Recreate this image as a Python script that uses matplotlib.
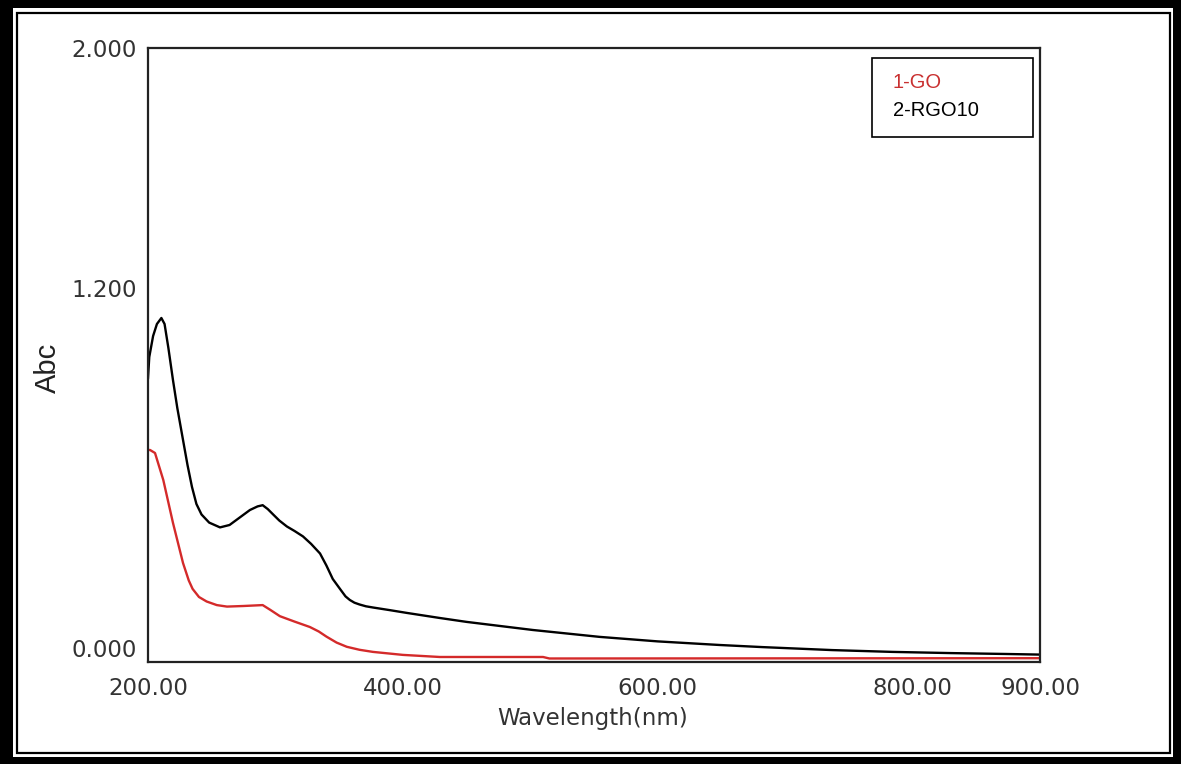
import numpy as np
import matplotlib.pyplot as plt
from matplotlib.patches import Rectangle

# data (wavelength in nm, absorbance)
rgo_x = [200, 201, 204, 207, 210.5, 213, 216, 219.6, 223, 227.5, 231, 234.5,
         238, 242, 248, 256.5, 264, 272, 280, 286, 290, 294, 298, 303, 309,
         315, 321.6, 328, 335, 340, 345, 351, 355, 358.4, 362, 366, 371,
         376.5, 390, 403, 429, 450, 502, 554.5, 600, 648.6, 682, 737, 784,
         830, 873.7, 900]
rgo_y = [0.90, 0.97, 1.04, 1.08, 1.10, 1.08, 1.00, 0.893, 0.80, 0.693, 0.61,
         0.537, 0.48, 0.445, 0.418, 0.402, 0.41, 0.435, 0.46, 0.472, 0.476,
         0.463, 0.446, 0.425, 0.405, 0.39, 0.372, 0.347, 0.315, 0.275, 0.23,
         0.195, 0.172, 0.16, 0.151, 0.145, 0.139, 0.135, 0.126, 0.117, 0.10,
         0.087, 0.06, 0.037, 0.022, 0.01, 0.003, -0.007, -0.013, -0.017,
         -0.02, -0.022]

go_x = [200, 201.6, 205.5, 212, 219.6, 227.5, 232, 235, 240, 246, 254, 262,
        275, 290, 296, 303.5, 315, 327, 334, 340, 348, 356, 366, 376.5, 400,
        429, 510, 515, 900]
go_y = [0.66, 0.66, 0.65, 0.56, 0.417, 0.283, 0.225, 0.197, 0.17, 0.155,
        0.143, 0.138, 0.14, 0.143, 0.127, 0.106, 0.088, 0.07, 0.055, 0.038,
        0.018, 0.004, -0.006, -0.013, -0.023, -0.03, -0.03, -0.035, -0.034]

x_ticks = [200, 400, 600, 800, 900]
y_ticks = [0.0, 1.2, 2.0]
labels = ['1-GO', '2-RGO10']

W, H = 1181, 764
fig = plt.figure(figsize=(W / 100, H / 100), dpi=100)
fig.patch.set_facecolor('white')


def frac(x, y, w, h):
    # pixel box (from top-left) -> figure fraction box
    return (x / W, 1 - (y + h) / H), w / W, h / H


# double frame round the picture
for box in [(0, 0, 13, H), (W - 8, 0, 8, H), (0, 0, W, 8), (0, H - 7, W, 7)]:
    xy, w, h = frac(*box)
    fig.add_artist(Rectangle(xy, w, h, transform=fig.transFigure,
                             facecolor='black', edgecolor='none'))
xy, w, h = frac(16.5, 12.5, W - 16.5 - 11.5, H - 12.5 - 11.5)
fig.add_artist(Rectangle(xy, w, h, transform=fig.transFigure, fill=False,
                         edgecolor='black', linewidth=1.6))

ax = fig.add_axes([148 / W, 1 - 662 / H, (1040 - 148) / W, (662 - 48) / H])
ax.plot(go_x, go_y, color='#d42a2a', lw=1.7)
ax.plot(rgo_x, rgo_y, color='black', lw=1.7)

ax.set_xlim(200, 900)
ax.set_ylim(-0.0467, 2.0)
ax.set_xticks(x_ticks)
ax.set_xticklabels(['%.2f' % v for v in x_ticks])
ax.set_yticks(y_ticks)
ax.set_yticklabels(['%.3f' % v for v in y_ticks])
ax.tick_params(length=0, labelsize=16.5, labelcolor='#333333')
ax.tick_params(axis='x', pad=11)
ax.tick_params(axis='y', pad=8)
for s in ax.spines.values():
    s.set_linewidth(1.6)
    s.set_color('#222222')

fig.text(593 / W, 1 - 719 / H, 'Wavelength(nm)', ha='center', va='center',
         fontsize=16.5, color='#333333')
fig.text(48 / W, 1 - 368 / H, 'Abc', ha='center', va='center', rotation=90,
         fontsize=21, family='Liberation Sans', color='#222222')

# legend box
ax.add_patch(Rectangle((0.8117, 0.855), 0.1805, 0.1287, transform=ax.transAxes,
                       fill=False, edgecolor='black', linewidth=1.2))
ax.text(0.835, 0.943, labels[0], transform=ax.transAxes, va='center',
        fontsize=14.5, family='Liberation Sans', color='#c93030')
ax.text(0.835, 0.899, labels[1], transform=ax.transAxes, va='center',
        fontsize=14.5, family='Liberation Sans', color='black')

fig.savefig('out.png', dpi=100)
